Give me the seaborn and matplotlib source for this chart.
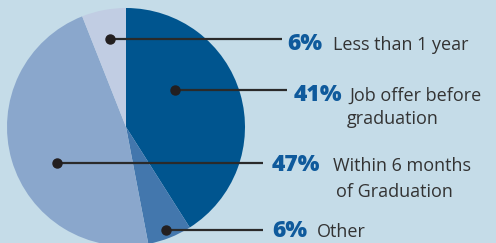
import matplotlib
matplotlib.use("Agg")
import matplotlib.pyplot as plt
import seaborn as sns

# ---- data ----
categories = ["Job offer before graduation", "Other", "Within 6 months of Graduation", "Less than 1 year"]
values = [41, 6, 47, 6]
pct_labels = ["41%", "6%", "47%", "6%"]
label_lines = [["Job offer before", "graduation"], ["Other"], ["Within 6 months", "of Graduation"], ["Less than 1 year"]]

# ---- style / layout ----
W, H = 496, 243
bg = "#c5dce8"
colors = ["#00558f", "#4377ad", "#8aa7cc", "#c1cde3"]
pct_color = "#0f5a9c"
txt_color = "#333333"

sns.set_theme(style="white")
plt.rcParams["font.family"] = ["Open Sans", "DejaVu Sans"]

fig = plt.figure(figsize=(W / 100, H / 100), dpi=100, facecolor=bg)
ax = fig.add_axes([0, 0, 1, 1])
ax.set_facecolor(bg)

cx, cy, R = 126, H - 127, 119
ax.pie(values, colors=colors, startangle=90, counterclock=False,
       center=(cx, cy), radius=R, frame=True,
       wedgeprops=dict(linewidth=0))
ax.set_xlim(0, W)
ax.set_ylim(0, H)
ax.set_aspect("equal")
ax.axis("off")

def Y(y):
    return H - y

# annotation anchors (pixel layout): dot, line end, pct x, text x, baselines
anchors = [
    dict(dot=(175, 90), lend=287, px=294, base=[101, 124], tx2=[349, 347]),
    dict(dot=(166, 230), lend=263, px=272, base=[237], tx2=[317]),
    dict(dot=(57, 163), lend=263, px=272, base=[171, 197], tx2=[333, 336]),
    dict(dot=(110, 39), lend=282, px=287, base=[50], tx2=[333]),
]

for i, a in enumerate(anchors):
    dx, dy = a["dot"]
    ax.plot([dx, a["lend"]], [Y(dy), Y(dy)], color="#2a2a2a", lw=1.6, solid_capstyle="butt", zorder=5)
    ax.plot([dx], [Y(dy)], "o", color="#231f20", ms=6.5, zorder=6)
    ax.text(a["px"], Y(a["base"][0]), pct_labels[i], color=pct_color, fontsize=16.5,
            fontweight="heavy", va="baseline", ha="left")
    for j, line in enumerate(label_lines[i]):
        ax.text(a["tx2"][j], Y(a["base"][j]), line, color=txt_color, fontsize=13,
                va="baseline", ha="left")

fig.savefig("out.png", dpi=100, facecolor=bg)
